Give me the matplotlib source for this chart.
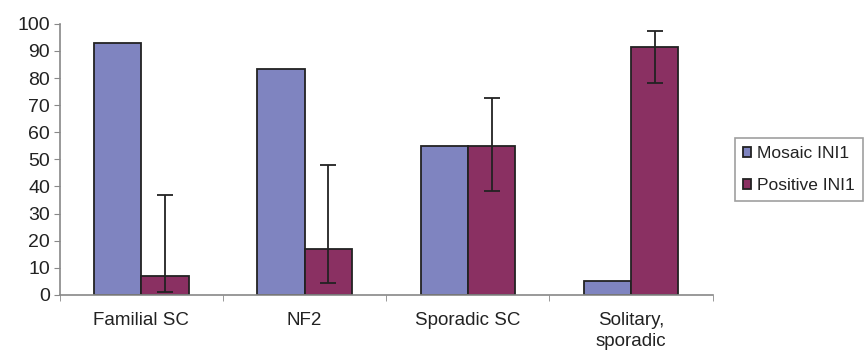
import numpy as np
import matplotlib
matplotlib.use("Agg")
import matplotlib.pyplot as plt

plt.rcParams['font.family'] = ['Liberation Sans', 'DejaVu Sans']

# data
categories = ['Familial SC', 'NF2', 'Sporadic SC', 'Solitary,\nsporadic']
mosaic = [93, 83.5, 55, 5]
positive = [7, 17, 55, 91.5]
err_low = [6, 12.5, 16.5, 13.5]
err_high = [30, 31, 17.5, 6]

mosaic_color = '#7f84c0'
positive_color = '#8a3062'
text_color = '#222222'

fig = plt.figure(figsize=(8.67, 3.61), dpi=100)
ax = fig.add_axes([0.069, 0.183, 0.753, 0.751])

x = np.arange(len(categories))
w = 0.29
ax.bar(x - w / 2, mosaic, w, color=mosaic_color, edgecolor='#222222',
       linewidth=1.3, label='Mosaic INI1', zorder=2)
ax.bar(x + w / 2, positive, w, color=positive_color, edgecolor='#222222',
       linewidth=1.3, label='Positive INI1', zorder=2)
ax.errorbar(x + w / 2, positive, yerr=[err_low, err_high], fmt='none',
            ecolor='#222222', elinewidth=1.3, capsize=6, capthick=1.3, zorder=3)

ax.set_xlim(-0.5, len(categories) - 0.5)
ax.set_ylim(0, 100)
ax.set_yticks(range(0, 101, 10))
ax.set_xticks(x)
ax.set_xticklabels(categories, linespacing=1.3)
ax.set_xticks(np.arange(-0.5, len(categories)), minor=True)
ax.tick_params(axis='x', which='major', length=0, pad=12, labelsize=13.5,
               labelcolor=text_color)
ax.tick_params(axis='x', which='minor', length=4, color='#888888')
ax.tick_params(axis='y', length=4, color='#888888', labelsize=14, pad=3,
               labelcolor=text_color)

for side in ['top', 'right']:
    ax.spines[side].set_visible(False)
for side in ['left', 'bottom']:
    ax.spines[side].set_color('#888888')
    ax.spines[side].set_linewidth(1.2)

# legend sits at the right edge; slightly smaller font so it is not cut off
leg = ax.legend(loc='upper left', bbox_to_anchor=(1.034, 0.579), frameon=True,
                fancybox=False, fontsize=12.5, handlelength=0.5, handleheight=0.5,
                handletextpad=0.35, borderpad=0.45, borderaxespad=0,
                labelspacing=1.0)
leg.get_frame().set_edgecolor('#888888')
leg.get_frame().set_linewidth(1.2)
for t in leg.get_texts():
    t.set_color(text_color)

fig.savefig('out.png', dpi=100)
